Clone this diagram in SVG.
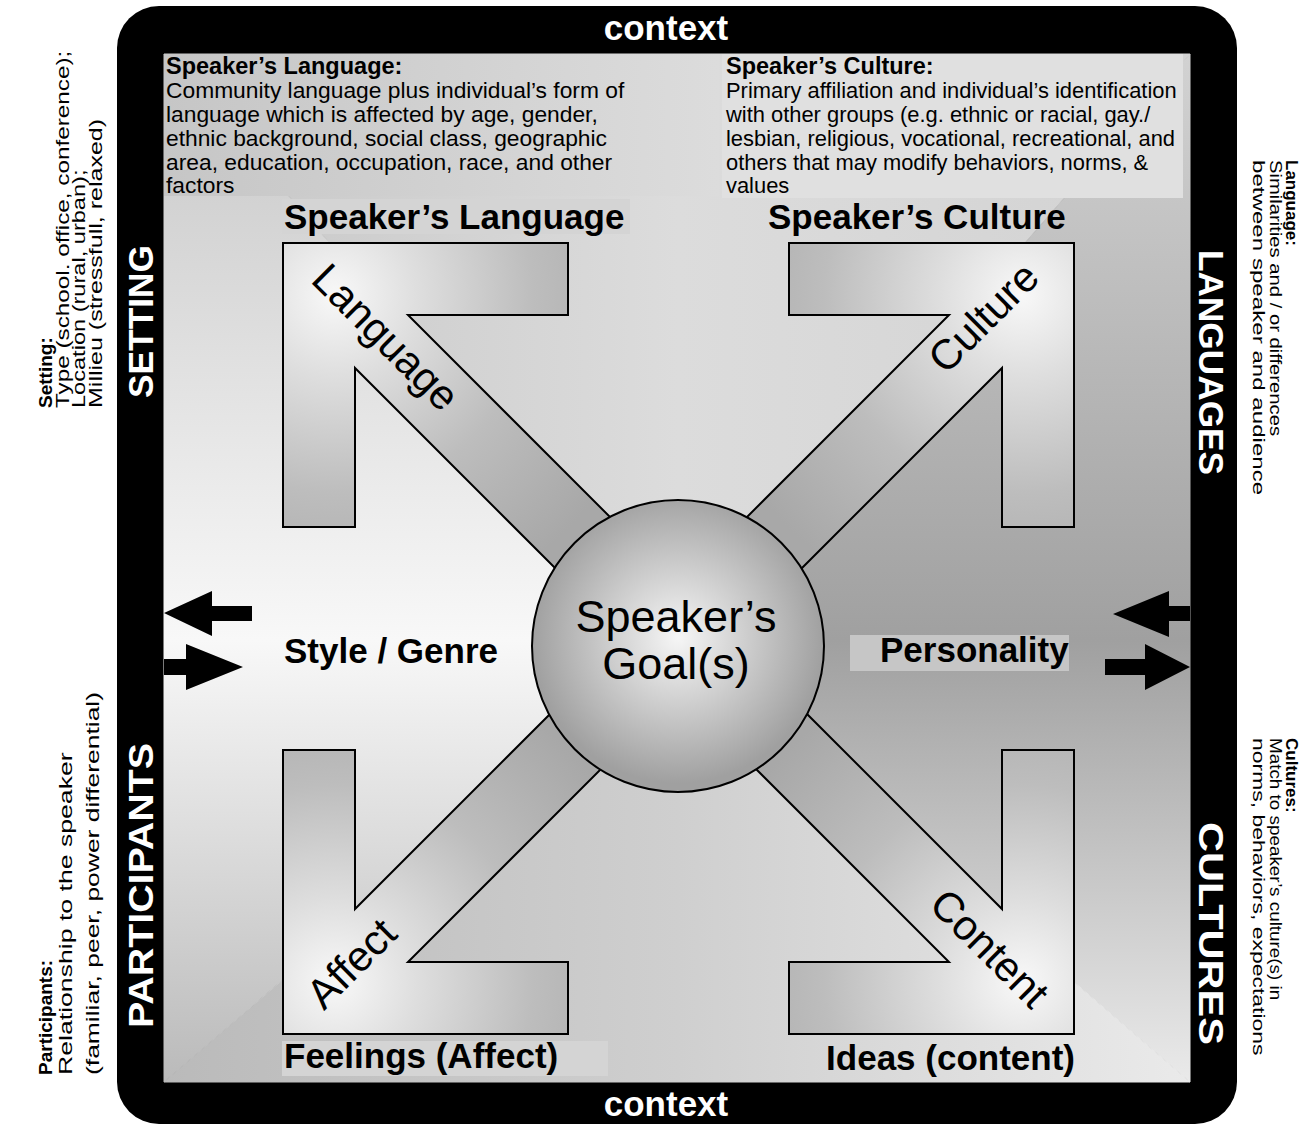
<svg xmlns="http://www.w3.org/2000/svg" width="1314" height="1126" viewBox="0 0 1314 1126">
<defs>
<style>
.f{font-family:"Liberation Sans",Arial,Helvetica,sans-serif}
.title{font-size:35px;font-weight:bold;fill:#000}
.bodyL{font-size:22.8px;fill:#000}
.bodyR{font-size:21.9px;fill:#000}
.bhead{font-size:23.5px;font-weight:bold;fill:#000}
.sideL{font-size:18px;fill:#000}
.sideLb{font-size:19px;font-weight:bold;fill:#000}
.sideR{font-size:17px;fill:#000}
.sideRb{font-size:17px;font-weight:bold;fill:#000}
.bar{font-size:35px;font-weight:bold;fill:#fff}
.lbl{font-size:42px;fill:#000}
.ctx{font-size:35px;font-weight:bold;fill:#fff}
.arm{stroke:#000;stroke-width:2;fill:url(#armG)}
.tag{fill:#d4d4d4}
</style>
<linearGradient id="w0" gradientUnits="userSpaceOnUse" x1="164" y1="640" x2="164" y2="54"><stop offset="0" stop-color="#f8f8f8"/><stop offset="1" stop-color="#c6c6c6"/></linearGradient>
<linearGradient id="w1" gradientUnits="userSpaceOnUse" x1="164" y1="54" x2="678" y2="54"><stop offset="0" stop-color="#c6c6c6"/><stop offset="1" stop-color="#dcdcdc"/></linearGradient>
<linearGradient id="w2" gradientUnits="userSpaceOnUse" x1="678" y1="54" x2="1190" y2="54"><stop offset="0" stop-color="#dcdcdc"/><stop offset="1" stop-color="#d2d2d2"/></linearGradient>
<linearGradient id="w3" gradientUnits="userSpaceOnUse" x1="1190" y1="54" x2="1190" y2="640"><stop offset="0" stop-color="#d2d2d2"/><stop offset="1" stop-color="#a0a0a0"/></linearGradient>
<linearGradient id="w4" gradientUnits="userSpaceOnUse" x1="1190" y1="640" x2="1190" y2="1082"><stop offset="0" stop-color="#a0a0a0"/><stop offset="1" stop-color="#eaeaea"/></linearGradient>
<linearGradient id="w5" gradientUnits="userSpaceOnUse" x1="1190" y1="1082" x2="678" y2="1082"><stop offset="0" stop-color="#eaeaea"/><stop offset="1" stop-color="#cfcfcf"/></linearGradient>
<linearGradient id="w6" gradientUnits="userSpaceOnUse" x1="678" y1="1082" x2="164" y2="1082"><stop offset="0" stop-color="#cfcfcf"/><stop offset="1" stop-color="#bababa"/></linearGradient>
<linearGradient id="w7" gradientUnits="userSpaceOnUse" x1="164" y1="1082" x2="164" y2="640"><stop offset="0" stop-color="#bababa"/><stop offset="1" stop-color="#f8f8f8"/></linearGradient>
<radialGradient id="armG" gradientUnits="userSpaceOnUse" cx="335" cy="295" r="330"><stop offset="0" stop-color="#f8f8f8"/><stop offset="0.25" stop-color="#dedede"/><stop offset="0.6" stop-color="#bdbdbd"/><stop offset="1" stop-color="#a8a8a8"/></radialGradient>
<radialGradient id="goalG" cx="0.5" cy="0.47" r="0.5"><stop offset="0" stop-color="#f6f6f6"/><stop offset="1" stop-color="#a0a0a0"/></radialGradient>
<linearGradient id="boxL" x1="0" y1="0" x2="1" y2="0"><stop offset="0" stop-color="#c6c6c6"/><stop offset="1" stop-color="#dcdcdc"/></linearGradient>
<path id="armShape" d="M283,243 L568,243 L568,315 L408,315 L640,547 L600,613 L355,368 L355,527 L283,527 Z"/>
</defs>

<g id="frame">
<rect x="117" y="6" width="1120" height="1118" rx="42" fill="#000"/>
<g id="background">
<polygon points="678,640 164,640 164,54" fill="url(#w0)" stroke="url(#w0)"/>
<polygon points="678,640 164,54 678,54" fill="url(#w1)" stroke="url(#w1)"/>
<polygon points="678,640 678,54 1190,54" fill="url(#w2)" stroke="url(#w2)"/>
<polygon points="678,640 1190,54 1190,640" fill="url(#w3)" stroke="url(#w3)"/>
<polygon points="678,640 1190,640 1190,1082" fill="url(#w4)" stroke="url(#w4)"/>
<polygon points="678,640 1190,1082 678,1082" fill="url(#w5)" stroke="url(#w5)"/>
<polygon points="678,640 678,1082 164,1082" fill="url(#w6)" stroke="url(#w6)"/>
<polygon points="678,640 164,1082 164,640" fill="url(#w7)" stroke="url(#w7)"/>
</g>
<text class="f ctx" x="666" y="40" text-anchor="middle">context</text>
<text class="f ctx" x="666" y="1116" text-anchor="middle">context</text>
<text class="f bar" transform="translate(153,321.5) rotate(-90)" text-anchor="middle" textLength="153" lengthAdjust="spacingAndGlyphs">SETTING</text>
<text class="f bar" transform="translate(153,885.5) rotate(-90)" text-anchor="middle" textLength="285" lengthAdjust="spacingAndGlyphs">PARTICIPANTS</text>
<text class="f bar" transform="translate(1199,362.5) rotate(90)" text-anchor="middle" textLength="225" lengthAdjust="spacingAndGlyphs">LANGUAGES</text>
<text class="f bar" transform="translate(1199,933.5) rotate(90)" text-anchor="middle" textLength="223" lengthAdjust="spacingAndGlyphs">CULTURES</text>
</g>

<g id="box-language">
<rect x="164" y="54" width="555" height="142" fill="url(#boxL)"/>
<text class="f bhead" x="166" y="74">Speaker’s Language:</text>
<text class="f bodyL" x="166" y="98">Community language plus individual’s form of</text>
<text class="f bodyL" x="166" y="122">language which is affected by age, gender,</text>
<text class="f bodyL" x="166" y="146">ethnic background, social class, geographic</text>
<text class="f bodyL" x="166" y="170">area, education, occupation, race, and other</text>
<text class="f bodyL" x="166" y="193">factors</text>
</g>

<g id="box-culture">
<rect x="722" y="54" width="461" height="144" fill="#e0e0e0"/>
<text class="f bhead" x="726" y="74">Speaker’s Culture:</text>
<text class="f bodyR" x="726" y="98">Primary affiliation and individual’s identification</text>
<text class="f bodyR" x="726" y="122">with other groups (e.g. ethnic or racial, gay./</text>
<text class="f bodyR" x="726" y="146">lesbian, religious, vocational, recreational, and</text>
<text class="f bodyR" x="726" y="170">others that may modify behaviors, norms, &amp;</text>
<text class="f bodyR" x="726" y="193">values</text>
</g>

<g id="arrow-language">
<use href="#armShape" class="arm"/>
<text class="f lbl" transform="translate(375.6,347.4) rotate(45)" text-anchor="middle">Language</text>
</g>
<g id="arrow-culture">
<use href="#armShape" class="arm" transform="translate(1357,0) scale(-1,1)"/>
<text class="f lbl" transform="translate(993.6,327.6) rotate(-45)" text-anchor="middle">Culture</text>
</g>
<g id="arrow-affect">
<use href="#armShape" class="arm" transform="translate(0,1277) scale(1,-1)"/>
<text class="f lbl" transform="translate(361.6,973.6) rotate(-45)" text-anchor="middle" font-size="44">Affect</text>
</g>
<g id="arrow-content">
<use href="#armShape" class="arm" transform="translate(1357,1277) scale(-1,-1)"/>
<text class="f lbl" transform="translate(979.4,958.6) rotate(45)" text-anchor="middle">Content</text>
</g>

<g id="goal">
<circle cx="678" cy="646" r="146" fill="url(#goalG)" stroke="#000" stroke-width="2"/>
<text class="f" x="676" y="632" font-size="45" text-anchor="middle">Speaker’s</text>
<text class="f" x="676" y="679" font-size="45" text-anchor="middle">Goal(s)</text>
</g>

<g id="title-language">
<rect class="tag" x="282" y="199" width="348" height="35"/>
<text class="f title" x="284" y="229">Speaker’s Language</text>
</g>
<g id="title-culture">
<text class="f title" x="768" y="229">Speaker’s Culture</text>
</g>
<g id="title-style">
<text class="f title" x="284" y="663">Style / Genre</text>
</g>
<g id="title-personality">
<rect x="850" y="635" width="219" height="36" fill="#c6c6c6"/>
<text class="f title" x="880" y="662">Personality</text>
</g>
<g id="title-feelings">
<rect class="tag" x="282" y="1041" width="326" height="35"/>
<text class="f title" x="284" y="1068">Feelings (Affect)</text>
</g>
<g id="title-ideas">
<text class="f title" x="1075" y="1070" text-anchor="end">Ideas (content)</text>
</g>

<g id="note-setting">
<text class="f sideLb" transform="translate(52,408) rotate(-90)">Setting:</text>
<text class="f sideL" transform="translate(69,408) rotate(-90) scale(1.35,1)">Type (school. office, conference);</text>
<text class="f sideL" transform="translate(85,408) rotate(-90) scale(1.31,1)">Location (rural, urban);</text>
<text class="f sideL" transform="translate(102,408) rotate(-90) scale(1.39,1)">Millieu (stressfull, relaxed)</text>
</g>
<g id="note-participants">
<text class="f sideLb" transform="translate(52,1075) rotate(-90)">Participants:</text>
<text class="f sideL" transform="translate(72,1075) rotate(-90) scale(1.48,1)">Relationship to the speaker</text>
<text class="f sideL" transform="translate(99,1075) rotate(-90) scale(1.47,1)">(familiar, peer, power differential)</text>
</g>
<g id="note-language">
<text class="f sideRb" transform="translate(1286,160) rotate(90)">Language:</text>
<text class="f sideR" transform="translate(1270,160) rotate(90) scale(1.19,1)">Similarities and / or differences</text>
<text class="f sideR" transform="translate(1253,160) rotate(90) scale(1.42,1)">between speaker and audience</text>
</g>
<g id="note-cultures">
<text class="f sideRb" transform="translate(1286,738) rotate(90)">Cultures:</text>
<text class="f sideR" transform="translate(1270,738) rotate(90) scale(1.11,1)">Match to speaker’s culture(s) in</text>
<text class="f sideR" transform="translate(1253,738) rotate(90) scale(1.35,1)">norms, behaviors, expectations</text>
</g>

<g id="connectors" fill="#000">
<polygon points="164,613 212,591 212,606 252,606 252,621 212,621 212,636"/>
<polygon points="164,659 186,659 186,644 243,667 186,690 186,675 164,675"/>
<polygon points="1113,614 1169,591 1169,606 1190,606 1190,621 1169,621 1169,637"/>
<polygon points="1105,659 1145,659 1145,644 1190,667 1145,690 1145,675 1105,675"/>
</g>
</svg>
